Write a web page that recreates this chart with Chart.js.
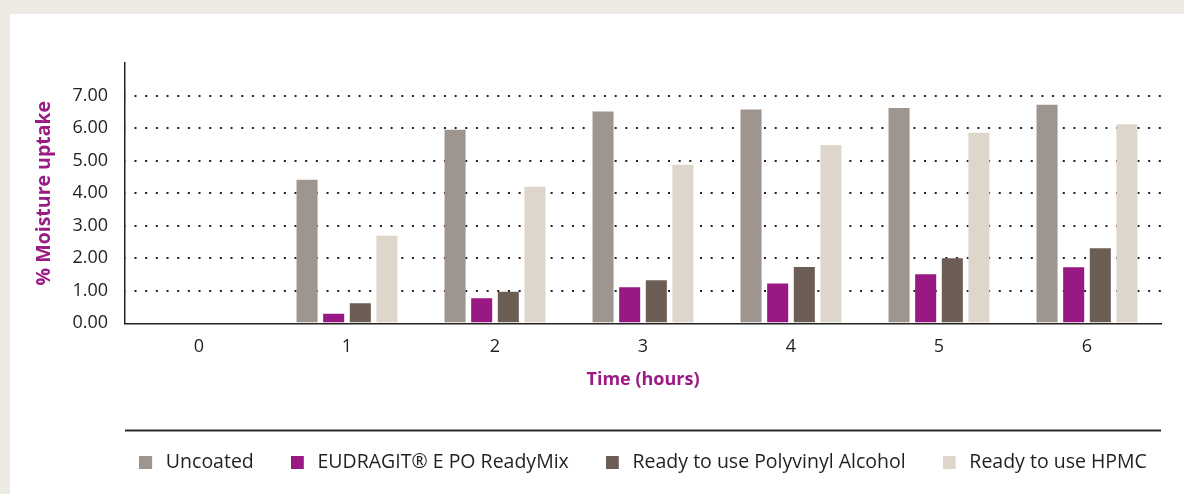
<!DOCTYPE html>
<html>
<head>
<meta charset="utf-8">
<script src="https://cdn.jsdelivr.net/npm/chart.js@4.4.1/dist/chart.umd.min.js"></script>
<style>
    html, body { margin: 0; padding: 0; background: #ede9e3; }
    #panel { position: absolute; left: 10px; top: 14px; right: 0; bottom: 0; background: #fff; }
    #moistureChart { position: absolute; left: 0; top: 0; }
</style>
</head>
<body>
<div id="panel"></div>
<canvas id="moistureChart" width="1184" height="494"></canvas>
<script>
// data
var hours = ["0", "1", "2", "3", "4", "5", "6"];
var seriesNames = ["Uncoated", "EUDRAGIT\u00AE E PO ReadyMix", "Ready to use Polyvinyl Alcohol", "Ready to use HPMC"];
var uncoated = [0, 4.41, 5.95, 6.51, 6.57, 6.62, 6.72];
var eudragit = [0, 0.29, 0.77, 1.11, 1.22, 1.51, 1.72];
var polyvinyl = [0, 0.62, 0.97, 1.32, 1.73, 2.00, 2.31];
var hpmc = [0, 2.69, 4.20, 4.87, 5.48, 5.86, 6.12];
var yTicks = [0, 1, 2, 3, 4, 5, 6, 7];

var seriesColors = ["#9f958f", "#9a1883", "#6c5d55", "#ded6ca"];
var textColor = "#231f20";
var titleColor = "#9b1b84";
var fontFamily = "'Open Sans', sans-serif";

// legend swatch: square at the left of a slightly wider transparent box
function swatch(color) {
    var c = document.createElement("canvas");
    c.width = 17;
    c.height = 13;
    var cx = c.getContext("2d");
    cx.fillStyle = color;
    cx.fillRect(0, 0, 13, 13);
    return c;
}

// thin rule above the legend
var legendRule = {
    id: "legendRule",
    afterDraw: function(chart) {
        var ctx = chart.ctx;
        var y = Math.round(chart.legend.top + 14) + 0.5;
        ctx.save();
        ctx.strokeStyle = "#2b2b2b";
        ctx.lineWidth = 2;
        ctx.beginPath();
        ctx.moveTo(chart.chartArea.left, y);
        ctx.lineTo(chart.chartArea.right, y);
        ctx.stroke();
        ctx.restore();
    }
};

// fixed legend height, and a bit more room so the four items stay on one row
var legendHeight = {
    id: "legendHeight",
    beforeInit: function(chart) {
        var origFit = chart.legend.fit;
        chart.legend.fit = function() {
            this.maxWidth = this.maxWidth + 200;
            origFit.bind(chart.legend)();
            this.height = 78.3;
        };
    },
    afterLayout: function(chart) {
        // widen the legend box evenly on both sides, centre stays the same
        chart.legend.left -= 80;
        chart.legend.right += 80;
        chart.legend.width += 160;
    }
};

var allData = [uncoated, eudragit, polyvinyl, hpmc];
var datasets = [];
for (var i = 0; i < seriesNames.length; ++i) {
    datasets.push({
        label: seriesNames[i],
        data: allData[i],
        backgroundColor: seriesColors[i],
        borderWidth: 0,
        categoryPercentage: 0.72,
        barPercentage: 0.79
    });
}

var ctx = document.getElementById("moistureChart").getContext("2d");
var myChart = new Chart(ctx, {
    type: "bar",
    data: {
        labels: hours,
        datasets: datasets
    },
    options: {
        responsive: false,
        animation: false,
        devicePixelRatio: 1,
        layout: {
            padding: { top: 63, right: 23, bottom: 0, left: 0 }
        },
        plugins: {
            tooltip: { enabled: false },
            legend: {
                position: "bottom",
                fullSize: false,
                labels: {
                    color: textColor,
                    font: { family: fontFamily, size: 19.5 },
                    padding: 37,
                    usePointStyle: true,
                    pointStyleWidth: 17,
                    boxHeight: 13,
                    generateLabels: function(chart) {
                        var items = Chart.defaults.plugins.legend.labels.generateLabels(chart);
                        items.forEach(function(item, idx) {
                            item.pointStyle = swatch(seriesColors[idx]);
                        });
                        return items;
                    }
                }
            }
        },
        scales: {
            x: {
                grid: { display: false, drawTicks: false },
                border: { display: true, color: "#222", width: 1.5 },
                ticks: {
                    color: textColor,
                    font: { family: fontFamily, size: 18 },
                    padding: 13
                },
                title: {
                    display: true,
                    text: "Time (hours)",
                    color: titleColor,
                    font: { family: fontFamily, size: 18, weight: "bold" },
                    padding: { top: 0, bottom: 25 }
                },
                afterFit: function(axis) {
                    axis.height = 92.4;
                }
            },
            y: {
                min: 0,
                max: 8,
                afterBuildTicks: function(axis) {
                    axis.ticks = yTicks.map(function(v) { return { value: v }; });
                },
                grid: {
                    drawTicks: false,
                    lineWidth: 2,
                    color: function(c) {
                        return c.tick && c.tick.value === 0 ? "rgba(0,0,0,0)" : "#231f20";
                    }
                },
                border: { display: true, color: "#222", width: 1.5, dash: [2, 8.67], dashOffset: 1.67 },
                ticks: {
                    color: textColor,
                    font: { family: fontFamily, size: 18 },
                    padding: 17,
                    callback: function(v) { return Number(v).toFixed(2); }
                },
                title: {
                    display: true,
                    text: "% Moisture uptake",
                    color: titleColor,
                    font: { family: fontFamily, size: 19.5, weight: "bold" },
                    padding: { top: 33, bottom: 0 }
                },
                afterFit: function(axis) {
                    axis.width = 125;
                }
            }
        }
    },
    plugins: [legendRule, legendHeight]
});
</script>
</body>
</html>
